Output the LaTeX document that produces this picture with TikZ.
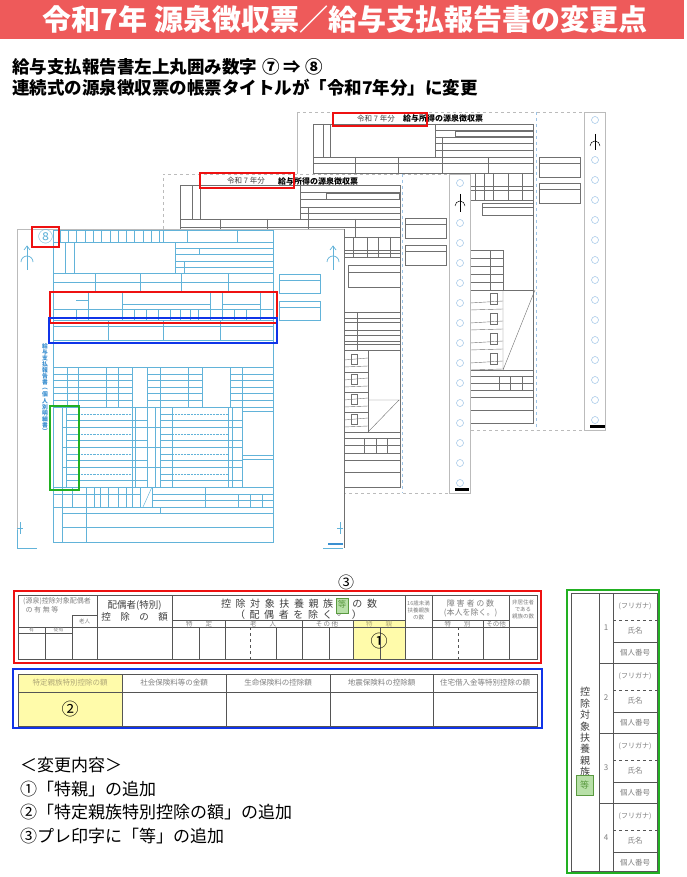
\documentclass[tikz,border=0pt]{standalone}
\usepackage{fontspec}
\setmainfont{Noto Sans CJK JP}
\usetikzlibrary{calc}
\definecolor{titlered}{HTML}{EE5A5A}
\definecolor{fblue}{HTML}{62B3D9}
\definecolor{vblue}{HTML}{3A8FD0}
\definecolor{fgray}{HTML}{707070}
\definecolor{pagegray}{HTML}{BBBBBB}
\definecolor{holeblue}{HTML}{9CC3E6}
\definecolor{redbox}{HTML}{EE1111}
\definecolor{bluebox}{HTML}{1034E8}
\definecolor{greenbox}{HTML}{22B022}
\definecolor{hlyellow}{HTML}{FFFBAA}
\definecolor{tgray}{HTML}{555555}
\definecolor{labgray}{HTML}{808080}
\definecolor{darkt}{HTML}{404040}
\definecolor{gfill}{HTML}{B8E0A8}
\definecolor{gdraw}{HTML}{5A9A40}
\definecolor{ylab}{HTML}{B0A878}
\newcommand{\jfs}[1]{\fontsize{#1}{#1}\selectfont}
\begin{document}
\begin{tikzpicture}[x=1pt,y=-1pt,
  fa/.style={draw=fblue, line width=0.45pt},
  fb/.style={draw=fgray, line width=0.4pt},
  pg/.style={draw=pagegray, line width=0.5pt},
  tl/.style={draw=tgray, line width=0.6pt},
  lab/.style={text=labgray, inner sep=0pt},
  hole/.style={draw=holeblue, line width=0.5pt},
  hlbox/.style={line width=2.4pt},
  listtxt/.style={anchor=west, inner sep=0pt, font=\jfs{17}},
]
\useasboundingbox (0,0) rectangle (687,877);
\fill[white] (0,0) rectangle (687,877);

% ---------- title ----------
\fill[titlered] (0,0) rectangle (684,39);
\node[text=white, font=\bfseries\jfs{29}] (title) at (345,19.5) {令和7年 源泉徴収票／給与支払報告書の変更点};
\node[anchor=west, inner sep=0pt, font=\bfseries\jfs{17.5}] (l1) at (12,67) {給与支払報告書左上丸囲み数字\hspace{5pt}⑦\hspace{4pt}⇒\hspace{4pt}⑧};
\node[anchor=west, inner sep=0pt, font=\bfseries\jfs{17.5}] (l2) at (12,88) {連続式の源泉徴収票の帳票タイトルが「令和7年分」に変更};

% ---------- form C (back) ----------
\fill[white] (297,112) rectangle (605,430);
\draw[pg] (297,430)--(297,112);
\draw[pg, dashed] (297,112)--(584,112);
\draw[pg, dashed] (297,430)--(584,430);
\draw[pg] (584,112)--(605,112)--(605,430)--(584,430)--cycle;
\draw[holeblue, dashed] (536,112)--(536,430);
\foreach \k in {0,2,3,...,15} \draw[hole] (595,120+20*\k) circle (3.5);
\draw[black, line width=0.5pt] (595,134)--(595,150);
\draw[black, line width=0.5pt] (590,146) arc[start angle=180, end angle=360, radius=5];
\fill[black] (590,425) rectangle (605,428);
\node[text=darkt, font=\jfs{7.5}, inner sep=0pt] (ctitA) at (376,118.5) {令和 7 年分};
\node[text=black, font=\bfseries\jfs{8}, inner sep=0pt] (ctitB) at (443,118.5) {給与所得の源泉徴収票};
\draw[fb] (313,124) rectangle (533,423);
\draw[fb] (323,124)--(323,157) (330,124)--(330,157) (435,124)--(435,157);
\foreach \y in {130,137,143,150} \draw[fb] (435,\y)--(533,\y);
\draw[fb] (442,137)--(442,157);
\draw[fb, line width=0.8pt] (455,131) rectangle (533,136);
\draw[fb] (313,157)--(533,157) (313,163)--(533,163) (313,173)--(533,173);
\foreach \x in {355,398,442,488} \draw[fb] (\x,157)--(\x,173);
\draw[fb] (539,157) rectangle (580,177) (539,163)--(580,163);
\draw[fb] (539,183) rectangle (580,203) (539,189)--(580,189);
\draw[fb] (313,200)--(533,200) (470,186)--(533,186) (470,190)--(533,190);
\foreach \x in {475,484,493,508,522} \draw[fb] (\x,173)--(\x,200);
\draw[fb] (482,203) rectangle (533,215) (482,207)--(533,207);
\foreach \y in {250,258,266,274,282,290} \draw[fb] (470,\y)--(503,\y);
\draw[fb] (490,250)--(490,290) (503,250)--(503,290) (503,290)--(533,290);
\foreach \y in {303,323,343,363} {
  \draw[fb] (470,\y)--(503,\y-2);
  \draw[fb] (470,\y+7)--(503,\y+6);
  \draw[fb] (490,\y-10) rectangle (497,\y+1);
}
\draw[fb] (503,290)--(503,370) (503,370)--(535,290);
\draw[fb] (470,370)--(533,370) (470,376)--(533,376) (470,383)--(533,383) (470,390)--(533,390);
\foreach \x in {499,510,522} \draw[fb] (\x,376)--(\x,390);
\draw[fb] (470,397)--(533,397) (470,410)--(533,410);

% ---------- form B ----------
\fill[white] (163,174) rectangle (470,493);
\draw[pg, dashed] (163,493)--(163,174)--(449,174);
\draw[pg, dashed] (163,493)--(449,493);
\draw[pg] (449,174)--(470,174)--(470,493)--(449,493)--cycle;
\draw[holeblue, dashed] (402,174)--(402,493);
\foreach \k in {0,2,3,...,15} \draw[hole] (460,183+20*\k) circle (3.5);
\draw[black, line width=0.5pt] (460,194)--(460,212);
\draw[black, line width=0.5pt] (455,206) arc[start angle=180, end angle=360, radius=5];
\fill[black] (455,488) rectangle (469,491);
\node[text=darkt, font=\jfs{7.5}, inner sep=0pt] (btitA) at (246,181) {令和 7 年分};
\node[text=black, font=\bfseries\jfs{8}, inner sep=0pt] (btitB) at (318,181) {給与所得の源泉徴収票};
\draw[fb] (180,185) rectangle (400,487);
\draw[fb] (192,185)--(192,219) (200,185)--(200,219) (300,185)--(300,219);
\foreach \y in {192,199,207,213} \draw[fb] (300,\y)--(400,\y);
\draw[fb] (308,207)--(308,219);
\draw[fb, line width=0.8pt] (326,193) rectangle (399,199);
\draw[fb] (180,219)--(400,219) (180,227)--(400,227) (180,237)--(400,237);
\foreach \x in {220,267,308,355} \draw[fb] (\x,219)--(\x,237);
\draw[fb] (344,250)--(400,250) (344,253)--(400,253) (344,257)--(400,257);
\foreach \x in {353,367,378,390} \draw[fb] (\x,237)--(\x,257);
\draw[fb] (348,265) rectangle (400,287) (348,272)--(400,272);
\foreach \y in {312,318,322,330,335,341,344,350} \draw[fb] (344,\y)--(400,\y);
\draw[fb] (357,312)--(357,350) (368,350)--(368,432);
\foreach \g in {352,372,392,412} {
  \draw[fb] (344,\g+8)--(368,\g+6);
  \draw[fb] (344,\g+15)--(368,\g+14);
  \draw[fb] (344,\g+20)--(368,\g+20);
  \draw[fb] (351,\g+2) rectangle (357,\g+12);
}
\draw[fb] (368,400)--(400,400) (368,432)--(399,400);
\foreach \y in {432,438,445,453,460,472} \draw[fb] (344,\y)--(400,\y);
\foreach \x in {364,376,387} \draw[fb] (\x,438)--(\x,453);
\draw[fb] (405,218) rectangle (446,238) (405,224)--(446,224);
\draw[fb] (405,245) rectangle (446,265) (405,251)--(446,251);

% ---------- form A (front, blue) ----------
\fill[white] (17,229) rectangle (344,548);
\draw[pg] (17,548)--(17,229)--(344,229);
\draw[draw=fgray, line width=0.7pt] (344,229)--(344,548);
\draw[fa] (17,530)--(17,548)--(37,548);
\draw[fa] (323,548)--(343,548);
\draw[fa] (20,522)--(20,534) (17,528)--(23,528);
\draw[fa] (340,522)--(340,534) (337,528)--(343,528);
\fill[vblue] (328,543) rectangle (343,545);
% marks
\foreach \mx in {27,333} {
  \draw[fa, line width=0.7pt] (\mx,246)--(\mx,270);
  \draw[fa, line width=0.7pt] (\mx-3,250)--(\mx,246)--(\mx+3,250);
  \draw[fa, line width=0.7pt] (\mx-6,262) arc[start angle=180, end angle=360, radius=6];
}
\draw[fa, line width=0.7pt] (53,230) rectangle (273,542);
\draw[fa] (53,242)--(273,242);
\foreach \i in {0,...,12} \draw[fa] (60+8.3*\i,230)--(60+8.3*\i,242);
\draw[fa] (163,230)--(163,242) (187,230)--(187,242) (237,230)--(237,242);
\draw[fa] (65,242)--(65,273) (74,242)--(74,273) (175,242)--(175,273);
\foreach \y in {248,254,261,267} \draw[fa] (175,\y)--(273,\y);
\draw[fa] (184,261)--(184,273);
\draw[fa, line width=0.9pt] (199,248) rectangle (273,254);
\draw[fa] (53,273)--(273,273) (53,282)--(273,282) (53,292)--(273,292);
\foreach \x in {95,140,181,228} \draw[fa] (\x,273)--(\x,292);
\draw[fa] (53,320)--(273,320) (53,309)--(273,309);
\foreach \x in {88,122,210,222,260} \draw[fa] (\x,292)--(\x,320);
\foreach \x in {76,134,146,158,170,180,190,198,234,246} \draw[fa] (\x,309)--(\x,320);
\draw[fa] (122,304)--(210,304) (222,304)--(260,304) (76,300)--(88,300);
\draw[fa] (53,326)--(273,326) (53,340)--(273,340);
\foreach \x in {108,163,220} \draw[fa] (\x,320)--(\x,340);
\draw[fa] (53,367)--(273,367);
\foreach \y in {374,380,387,393,400} {
  \draw[fa] (53,\y)--(132,\y);
  \draw[fa] (147,\y)--(202,\y);
  \draw[fa] (230,\y)--(273,\y);
}
\foreach \x in {67,78,106,118,132,147,160,188,202,230,242} \draw[fa] (\x,367)--(\x,407);
\draw[fa] (53,407)--(273,407);
\foreach \x in {62,66,78,132,135,147,155,160,172,228,232,242} \draw[fa] (\x,407)--(\x,487);
\foreach \g in {407,427,447,467} {
  \draw[fa] (62,\g)--(242,\g);
  \draw[fa] (66,\g+7)--(78,\g+7) (66,\g+13)--(147,\g+13);
  \draw[fa, densely dotted] (78,\g+7)--(132,\g+7);
  \draw[fa] (160,\g+7)--(172,\g+7) (160,\g+13)--(242,\g+13);
  \draw[fa, densely dotted] (172,\g+7)--(228,\g+7);
}
\draw[fa] (242,411)--(273,411) (242,455)--(273,455) (242,459)--(273,459);
\draw[fa] (53,487)--(273,487);
\foreach \x in {62,72,86,94,100,108,118,126,132,140,152,205} \draw[fa] (\x,487)--(\x,507);
\foreach \x in {238,250,262} \draw[fa] (\x,494)--(\x,507);
\draw[fa] (143,507)--(152,487);
\draw[fa] (53,494)--(140,494) (152,494)--(273,494) (152,500)--(273,500);
\draw[fa] (53,507)--(273,507);
\draw[fa] (62,507)--(62,542) (86,507)--(86,542) (160,507)--(160,513);
\draw[fa] (62,513)--(273,513) (62,527)--(273,527);
\draw[fa] (279,274) rectangle (320,293) (279,280)--(320,280);
\draw[fa] (279,301) rectangle (320,320) (279,307)--(320,307);
\foreach \c [count=\i from 0] in {給,与,支,払,報,告,書,︵,個,人,別,明,細,書,︶}
  \node[text=vblue, font=\bfseries\jfs{5.8}, inner sep=0pt] at (45,346+6.1*\i) {\c};
\node[text=fblue, font=\jfs{15}, inner sep=0pt] (eight) at (45.5,237) {⑧};

% highlight boxes on the forms
\draw[redbox, hlbox] (333,113) rectangle (427,126);
\draw[redbox, hlbox] (200,173) rectangle (294,188);
\draw[redbox, hlbox] (32,227) rectangle (59,247);
\draw[redbox, line width=2pt] (50,292) rectangle (277,323);
\draw[bluebox, line width=2pt] (49,318) rectangle (277,343);
\draw[greenbox, line width=2pt] (50,406) rectangle (79,490);

% ---------- detail table 1 (red) ----------
\fill[hlyellow] (353,620) rectangle (405,659);
\draw[tl, line width=0.9pt] (18,595) rectangle (537,659);
\foreach \x in {97,172,405,432,509} \draw[tl] (\x,595)--(\x,659);
\draw[tl] (72,615)--(97,615) (72,615)--(72,659);
\draw[tl] (18,627)--(537,627);
\draw[tl] (18,633)--(72,633) (45,627)--(45,659);
\draw[tl] (172,620)--(405,620) (432,620)--(509,620);
\foreach \x in {225,302,353,483} \draw[tl] (\x,620)--(\x,659);
\foreach \x in {199,276,329,380} \draw[tl] (\x,627)--(\x,659);
\draw[tl, dashed] (250,627)--(250,659) (458,627)--(458,659);
\node[lab, font=\jfs{7}] at (57,601) {(源泉)控除対象配偶者};
\node[lab, font=\jfs{7}] at (42,609.5) {の 有 無 等};
\node[lab, font=\jfs{5.5}] at (84.5,621) {老人};
\node[lab, font=\jfs{5}] at (31.5,630) {有};
\node[lab, font=\jfs{5}] at (58.5,630) {従有};
\node[text=darkt, font=\jfs{9.5}, inner sep=0pt] at (134.5,605.5) {配偶者(特別)};
\node[text=darkt, font=\jfs{9.5}, inner sep=0pt] at (134.5,616.5) {控　除　の　額};
\foreach \c [count=\i from 0] in {控,除,対,象,扶,養,親,族,,の,数}
  \node[text=darkt, font=\jfs{10}, inner sep=0pt] at (226+14.6*\i,604) {\c};
\foreach \c [count=\i from 0] in {（,配,偶,者,を,除,く,。,）}
  \node[text=darkt, font=\jfs{10}, inner sep=0pt] at (240+14.6*\i,615) {\c};
\node[lab, font=\jfs{6.5}] at (199,623.7) {特　　定};
\node[lab, font=\jfs{6.5}] at (263,623.7) {老　　人};
\node[lab, font=\jfs{6.5}] at (327,623.7) {そ の 他};
\node[text=ylab, font=\jfs{6.5}, inner sep=0pt] at (379,623.7) {特　　親};
\node[lab, font=\jfs{5.5}] at (418.5,603) {16歳未満};
\node[lab, font=\jfs{5.5}] at (418.5,610) {扶養親族};
\node[lab, font=\jfs{5.5}] at (418.5,617) {の数};
\node[lab, font=\jfs{8}] at (470.5,603) {障 害 者 の 数};
\node[lab, font=\jfs{8}] at (470.5,612.5) {(本人を除く。)};
\node[lab, font=\jfs{6.5}] at (457.5,623.7) {特　　別};
\node[lab, font=\jfs{6.5}] at (496,623.7) {その他};
\node[lab, font=\jfs{5.5}] at (523,602) {非居住者};
\node[lab, font=\jfs{5.5}] at (523,609) {である};
\node[lab, font=\jfs{5.5}] at (523,616) {親族の数};
\draw[fill=gfill, draw=gdraw, line width=0.8pt] (336,598) rectangle (348,613);
\node[text=gdraw, font=\jfs{8.5}, inner sep=0pt] (toA) at (342,604.5) {等};
\node[font=\jfs{17}, inner sep=0pt] (c1) at (379,641) {①};
\node[font=\jfs{16}, inner sep=0pt] (c3) at (346,582) {③};
\draw[redbox, hlbox] (14,591) rectangle (541,663);

% ---------- detail table 2 (blue) ----------
\fill[hlyellow] (18,674) rectangle (122,726);
\draw[tl, line width=0.9pt] (18,674) rectangle (537,726);
\draw[tl] (18,692)--(537,692);
\foreach \x in {122,226,330,433} \draw[tl] (\x,674)--(\x,726);
\node[text=ylab, font=\jfs{7.5}, inner sep=0pt] at (70,683) {特定親族特別控除の額};
\node[lab, font=\jfs{7.5}] at (174,683) {社会保険料等の金額};
\node[lab, font=\jfs{7.5}] at (278,683) {生命保険料の控除額};
\node[lab, font=\jfs{7.5}] at (381.5,683) {地震保険料の控除額};
\node[lab, font=\jfs{7.5}] at (485,683) {住宅借入金等特別控除の額};
\node[font=\jfs{17}, inner sep=0pt] (c2) at (70,709) {②};
\draw[bluebox, hlbox] (13,669) rectangle (542,728);

% ---------- detail table 3 (green) ----------
\draw[tl, line width=0.9pt] (571,593) rectangle (657,871);
\draw[tl, line width=0.9pt] (599,593)--(599,871) (613,593)--(613,871);
\foreach \g/\n in {593/1,663/2,733/3,803/4} {
  \draw[tl, line width=0.9pt] (599,\g)--(657,\g);
  \draw[tl, dashed] (613,\g+27)--(657,\g+27);
  \draw[tl] (613,\g+49)--(657,\g+49);
  \node[lab, font=\jfs{7}] at (635,\g+13.5) {(フリガナ)};
  \node[lab, font=\jfs{7.5}] at (635,\g+38) {氏名};
  \node[lab, font=\jfs{7.5}] at (635,\g+60) {個人番号};
  \node[lab, font=\jfs{8}] at (606,\g+35) {\n};
}
\foreach \c [count=\i from 0] in {控,除,対,象,扶,養,親,族}
  \node[text=darkt, font=\jfs{10}, inner sep=0pt] at (585,692+11.4*\i) {\c};
\draw[fill=gfill, draw=gdraw, line width=0.8pt] (576,775) rectangle (593,795);
\node[text=gdraw, font=\jfs{9}, inner sep=0pt] (toB) at (584.5,785) {等};
\draw[greenbox, hlbox] (567,590) rectangle (659,873);

% ---------- change list ----------
\node[listtxt] (h) at (20,765) {＜変更内容＞};
\node[listtxt] (i1) at (20,789) {①「特親」の追加};
\node[listtxt] (i2) at (20,812.5) {②「特定親族特別控除の額」の追加};
\node[listtxt] (i3) at (20,836) {③プレ印字に「等」の追加};
\end{tikzpicture}
\end{document}
